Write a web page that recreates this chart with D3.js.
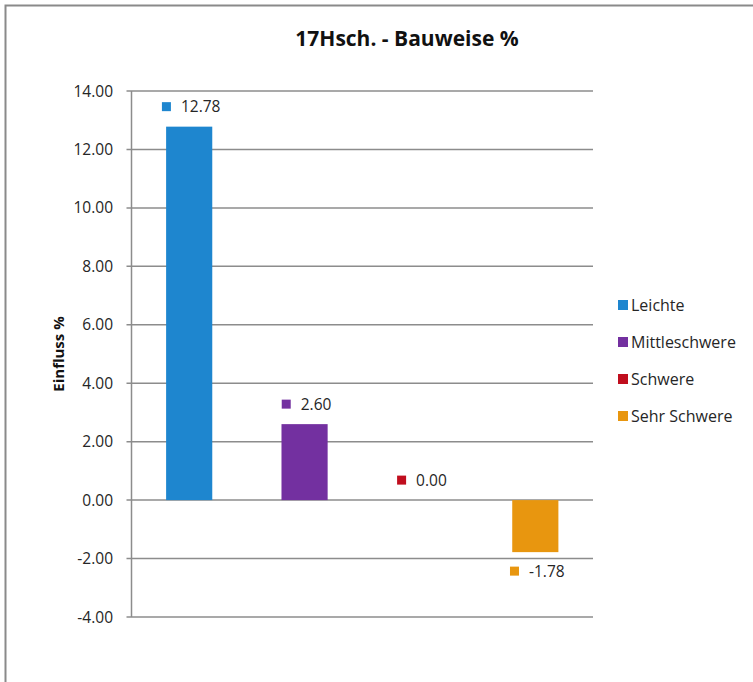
<!DOCTYPE html>
<html>
<head>
<meta charset="utf-8">
<script src="https://cdn.jsdelivr.net/npm/d3@7"></script>
<style>
    body { margin: 0; background: #fff; }
    svg { display: block; font-family: "Open Sans", sans-serif; }
    .grid line { stroke: #8c8c8c; stroke-width: 1.5px; }
    .tick-label { font-size: 15.5px; fill: #262626; }
</style>
<title>17Hsch. - Bauweise %</title>
</head>
<body>
<script>
    // data
    var categories = ["Leichte", "Mittleschwere", "Schwere", "Sehr Schwere"];
    var values = [12.78, 2.60, 0.00, -1.78];
    var yTicks = [-4, -2, 0, 2, 4, 6, 8, 10, 12, 14];

    var palette = ["#1e86cf", "#7330a0", "#c00e1e", "#e8960f"];

    var W = 753, H = 682;
    var plot = {left: 131.5, right: 593, top: 91, bottom: 617};

    // plain hyphen for negatives, like the original
    var fmt = function (v) { return d3.format(".2f")(v).replace("\u2212", "-"); };

    var svg = d3.select("body").append("svg")
        .attr("width", W)
        .attr("height", H);

    // outer chart frame (runs off the right and bottom)
    svg.append("rect")
        .attr("x", 5.5).attr("y", 5.5)
        .attr("width", W + 10).attr("height", H + 10)
        .attr("fill", "#fff")
        .attr("stroke", "#8a8a8a")
        .attr("stroke-width", 2);

    var x = d3.scaleBand()
        .domain(categories)
        .range([plot.left, plot.right])
        .paddingInner(0.6)
        .paddingOuter(0.3);

    var y = d3.scaleLinear()
        .domain([-4, 14])
        .range([plot.bottom, plot.top]);

    var color = d3.scaleOrdinal().domain(categories).range(palette);

    // gridlines
    var grid = svg.append("g").attr("class", "grid");
    grid.selectAll("line")
        .data(yTicks)
        .enter()
        .append("line")
        .attr("x1", plot.left - 5)
        .attr("x2", plot.right)
        .attr("y1", d => y(d))
        .attr("y2", d => y(d));

    // y axis line
    grid.append("line")
        .attr("x1", plot.left).attr("x2", plot.left)
        .attr("y1", y(14)).attr("y2", y(-4));

    svg.selectAll(".tick-label")
        .data(yTicks)
        .enter()
        .append("text")
        .attr("class", "tick-label")
        .attr("x", 113)
        .attr("y", d => y(d))
        .attr("dy", "0.36em")
        .attr("text-anchor", "end")
        .text(d => fmt(d));

    // bars
    var data = categories.map((c, i) => ({cat: c, val: values[i]}));

    svg.selectAll(".bar")
        .data(data)
        .enter()
        .append("rect")
        .attr("class", "bar")
        .attr("x", d => x(d.cat))
        .attr("width", x.bandwidth())
        .attr("y", d => y(Math.max(0, d.val)))
        .attr("height", d => Math.abs(y(d.val) - y(0)))
        .attr("fill", d => color(d.cat));

    // value labels with legend key
    var lbl = svg.selectAll(".lbl")
        .data(data)
        .enter()
        .append("g")
        .attr("class", "lbl");

    lbl.each(function (d) {
        var g = d3.select(this);
        var cy = d.val >= 0 ? y(d.val) - 20 : y(d.val) + 19;
        var t = g.append("text")
            .attr("class", "tick-label")
            .attr("y", cy)
            .attr("dy", "0.36em")
            .text(fmt(d.val));
        var tw = t.node().getComputedTextLength();
        var groupW = 9 + 10 + tw;
        var left = x(d.cat) + x.bandwidth() / 2 - groupW / 2 + 2;
        g.append("rect")
            .attr("x", left)
            .attr("y", cy - 4.5)
            .attr("width", 9)
            .attr("height", 9)
            .attr("fill", color(d.cat));
        t.attr("x", left + 19);
    });

    // title
    svg.append("text")
        .attr("x", 407)
        .attr("y", 46)
        .attr("text-anchor", "middle")
        .style("font-size", "21px")
        .style("font-weight", "bold")
        .attr("fill", "#111")
        .text("17Hsch. - Bauweise %");

    // y axis title
    svg.append("text")
        .attr("transform", "translate(64," + (y(5)) + ") rotate(-90)")
        .attr("text-anchor", "middle")
        .style("font-size", "15px")
        .style("font-weight", "bold")
        .attr("fill", "#111")
        .text("Einfluss %");

    // legend
    var legend = svg.selectAll(".legend")
        .data(categories)
        .enter()
        .append("g")
        .attr("class", "legend")
        .attr("transform", (d, i) => "translate(618," + (305 + i * 37) + ")");

    legend.append("rect")
        .attr("x", 0).attr("y", -5)
        .attr("width", 10).attr("height", 10)
        .attr("fill", d => color(d));

    legend.append("text")
        .attr("x", 13)
        .attr("dy", "0.36em")
        .style("font-size", "16px")
        .attr("fill", "#262626")
        .text(d => d);
</script>
</body>
</html>
